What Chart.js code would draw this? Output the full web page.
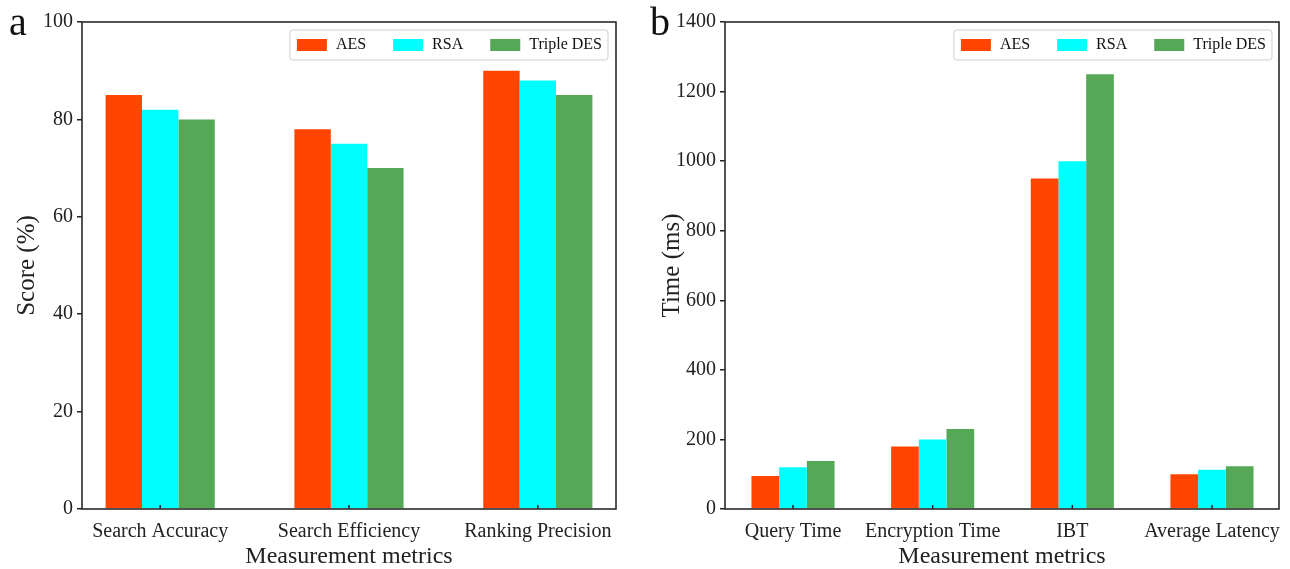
<!DOCTYPE html>
<html>
<head>
<meta charset="utf-8">
<script src="https://cdn.jsdelivr.net/npm/chart.js@4.4.1/dist/chart.umd.min.js"></script>
<style>
  html, body { margin: 0; padding: 0; background: #fff; }
  #wrap { position: relative; width: 1290px; height: 569px; overflow: hidden; }
  .panel { position: absolute; top: 0; width: 645px; height: 569px; }
  .letter { position: absolute; font-family: 'Liberation Serif', 'Times New Roman', serif; font-size: 40px; color: #111; line-height: 1; }
</style>
</head>
<body>
<div id="wrap">
  <div class="panel" style="left:0"><canvas id="ca" width="645" height="569"></canvas></div>
  <div class="panel" style="left:645px"><canvas id="cb" width="645" height="569"></canvas></div>
  <div class="letter" style="left:9px; top:2px;">a</div>
  <div class="letter" style="left:650px; top:2px;">b</div>
</div>
<script>
// ---- data ----
const seriesNames = ['AES', 'RSA', 'Triple DES'];
const seriesColors = ['#FF4500', '#00FFFF', '#55A855'];

const categoriesA = ['Search Accuracy', 'Search Efficiency', 'Ranking Precision'];
const aesA = [85, 78, 90];
const rsaA = [82, 75, 88];
const tdesA = [80, 70, 85];
const yTicksA = [0, 20, 40, 60, 80, 100];

const categoriesB = ['Query Time', 'Encryption Time', 'IBT', 'Average Latency'];
const aesB = [95, 180, 950, 100];
const rsaB = [120, 200, 1000, 113];
const tdesB = [138, 230, 1250, 123];
const yTicksB = [0, 200, 400, 600, 800, 1000, 1200, 1400];

const SERIF = "'Liberation Serif', 'Times New Roman', serif";
const INK = '#222';

const framePlugin = {
  id: 'frame',
  afterDraw(chart, args, opts) {
    const { ctx, chartArea: a } = chart;
    const xs = chart.scales.x;
    ctx.save();
    ctx.strokeStyle = '#222';
    ctx.lineWidth = 1.5;
    xs.ticks.forEach(t => {
      const px = xs.getPixelForValue(t.value);
      ctx.beginPath();
      ctx.moveTo(px, a.bottom);
      ctx.lineTo(px, a.bottom - 4);
      ctx.stroke();
    });
    ctx.strokeStyle = '#2a2a2a';
    ctx.lineWidth = 1.6;
    ctx.strokeRect(a.left, a.top, a.right - a.left, a.bottom - a.top);
    ctx.font = '16px ' + SERIF;
    const items = chart.data.datasets.map(d => ({ label: d.label, color: d.backgroundColor, w: ctx.measureText(d.label).width }));
    const padL = 7, sw = 30, sh = 12, gap = 9, itemGap = 27, padR = 6, h = 30;
    let total = padL + padR;
    items.forEach((it, i) => { total += sw + gap + it.w + (i < items.length - 1 ? itemGap : 0); });
    const right = a.right - opts.inset;
    const left = right - total;
    const top = a.top + 8;
    ctx.beginPath();
    if (ctx.roundRect) ctx.roundRect(left, top, total, h, 3); else ctx.rect(left, top, total, h);
    ctx.fillStyle = 'rgba(255,255,255,0.85)';
    ctx.fill();
    ctx.strokeStyle = '#cfcfcf';
    ctx.lineWidth = 1;
    ctx.stroke();
    let x = left + padL;
    ctx.textBaseline = 'middle';
    ctx.textAlign = 'left';
    items.forEach(it => {
      ctx.fillStyle = it.color;
      ctx.fillRect(x, top + 9, sw, sh);
      x += sw + gap;
      ctx.fillStyle = '#111';
      ctx.fillText(it.label, x, top + 15);
      x += it.w + itemGap;
    });
    ctx.restore();
  }
};

function makeChart(canvasId, cats, vals, yTicks, yTitle, xMin, xMax, catPct, yAxisW, padRight, inset) {
  const datasets = seriesNames.map((name, s) => ({
    label: name,
    data: vals[s].map((v, i) => ({ x: i, y: v })),
    backgroundColor: seriesColors[s],
    borderWidth: 0,
    categoryPercentage: catPct,
    barPercentage: 1.0
  }));
  return new Chart(document.getElementById(canvasId), {
    type: 'bar',
    data: { datasets },
    plugins: [framePlugin],
    options: {
      responsive: false,
      animation: false,
      devicePixelRatio: 1,
      layout: { padding: { top: 22, right: padRight, left: 0, bottom: 0 } },
      plugins: {
        legend: { display: false },
        tooltip: { enabled: false },
        frame: { inset: inset }
      },
      scales: {
        x: {
          type: 'linear',
          min: xMin, max: xMax,
          offset: false,
          grid: { display: false },
          border: { display: false },
          afterBuildTicks: sc => { sc.ticks = cats.map((c, i) => ({ value: i })); },
          afterFit: sc => { sc.height = 60; },
          ticks: {
            autoSkip: false, maxRotation: 0, padding: 3,
            color: INK, font: { family: SERIF, size: 20 },
            callback: v => cats[v]
          },
          title: { display: true, text: 'Measurement metrics', color: INK, font: { family: SERIF, size: 24 }, padding: { top: 0, bottom: -2 } }
        },
        y: {
          min: yTicks[0], max: yTicks[yTicks.length - 1],
          afterBuildTicks: sc => { sc.ticks = yTicks.map(v => ({ value: v })); },
          afterFit: sc => { sc.width = yAxisW; },
          grid: { display: true, drawOnChartArea: false, drawTicks: true, tickLength: 5, color: '#222', lineWidth: 1.5 },
          border: { display: false },
          ticks: { padding: 4, color: INK, font: { family: SERIF, size: 20 }, callback: v => String(v) },
          title: { display: true, text: yTitle, color: INK, font: { family: SERIF, size: 25 }, padding: { top: 12, bottom: 0 } }
        }
      }
    }
  });
}

makeChart('ca', categoriesA, [aesA, rsaA, tdesA], yTicksA, 'Score (%)', -0.414, 2.414, 0.578, 82, 29, 8);
makeChart('cb', categoriesB, [aesB, rsaB, tdesB], yTicksB, 'Time (ms)', -0.487, 3.48, 0.595, 80, 11, 7);
</script>
</body>
</html>
